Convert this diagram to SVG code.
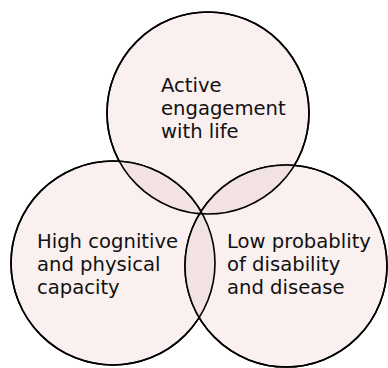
<svg xmlns="http://www.w3.org/2000/svg" width="388" height="368" viewBox="0 0 388 368">
  <style>
    .ring { fill: #f9f0ef; stroke: #000; stroke-width: 1.6; }
    .lens { fill: #f2e2e2; stroke: none; }
    .edge { fill: none; stroke: #000; stroke-width: 1.6; }
    .label { font-family: "DejaVu Sans", Verdana, sans-serif; font-size: 19.6px; fill: #111; }
  </style>
  <defs>
    <circle id="cTop" cx="208" cy="113" r="101"/>
    <circle id="cLeft" cx="113" cy="263" r="102"/>
    <circle id="cRight" cx="286" cy="266" r="101"/>
    <clipPath id="clipTop"><use href="#cTop"/></clipPath>
    <clipPath id="clipLeft"><use href="#cLeft"/></clipPath>
  </defs>

  <!-- filled discs -->
  <g id="fills">
    <use href="#cTop" class="ring"/>
    <use href="#cLeft" class="ring"/>
    <use href="#cRight" class="ring"/>
  </g>

  <!-- pairwise overlaps, slightly darker -->
  <g id="overlaps">
    <use href="#cLeft" class="lens" clip-path="url(#clipTop)"/>
    <use href="#cRight" class="lens" clip-path="url(#clipTop)"/>
    <use href="#cRight" class="lens" clip-path="url(#clipLeft)"/>
  </g>

  <!-- outlines on top -->
  <g id="outlines">
    <use href="#cTop" class="edge"/>
    <use href="#cLeft" class="edge"/>
    <use href="#cRight" class="edge"/>
  </g>

  <g id="active-engagement">
    <text class="label" x="161" y="92">Active</text>
    <text class="label" x="161" y="115">engagement</text>
    <text class="label" x="161" y="138">with life</text>
  </g>

  <g id="high-capacity">
    <text class="label" x="37" y="248">High cognitive</text>
    <text class="label" x="37" y="271">and physical</text>
    <text class="label" x="37" y="294">capacity</text>
  </g>

  <g id="low-disability">
    <text class="label" x="227" y="248">Low probablity</text>
    <text class="label" x="227" y="271">of disability</text>
    <text class="label" x="227" y="294">and disease</text>
  </g>
</svg>
